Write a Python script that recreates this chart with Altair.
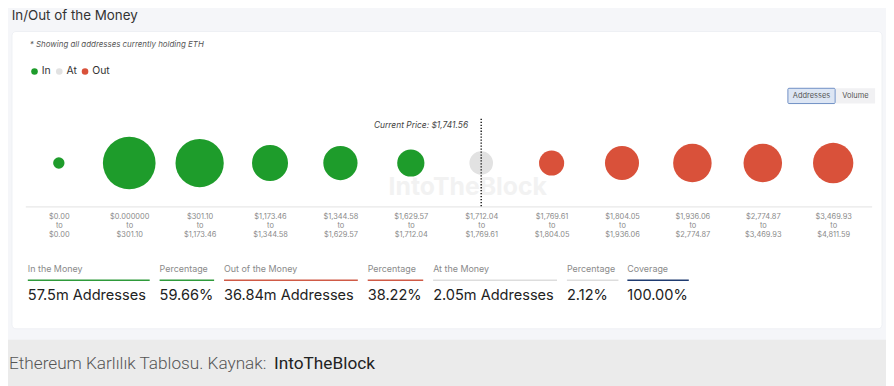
import altair as alt
import pandas as pd

# ---------------- data ----------------
range_low = ["$0.00", "$0.000000", "$301.10", "$1,173.46", "$1,344.58", "$1,629.57",
             "$1,712.04", "$1,769.61", "$1,804.05", "$1,936.06", "$2,774.87", "$3,469.93"]
range_high = ["$0.00", "$301.10", "$1,173.46", "$1,344.58", "$1,629.57", "$1,712.04",
              "$1,769.61", "$1,804.05", "$1,936.06", "$2,774.87", "$3,469.93", "$4,811.59"]
status = ["In", "In", "In", "In", "In", "In", "At", "Out", "Out", "Out", "Out", "Out"]
addresses_m = [0.23, 22.9, 17.6, 7.31, 6.29, 3.16, 2.05, 2.48, 6.19, 8.95, 8.96, 10.26]
current_price = 1741.56

status_domain = ["In", "At", "Out"]
status_colors = ["#1e9c2b", "#e2e2e2", "#d9513a"]

summary_headers = ["In the Money", "Percentage", "Out of the Money", "Percentage",
                   "At the Money", "Percentage", "Coverage"]
summary_values = ["57.5m Addresses", "59.66%", "36.84m Addresses", "38.22%",
                  "2.05m Addresses", "2.12%", "100.00%"]
summary_colors = ["#2e9a3a", "#2e9a3a", "#cf5a46", "#cf5a46", "#dddddd", "#dddddd", "#1f3b70"]

# ---------------- layout (chart pixel coords) ----------------
summary_x0 = [20, 153, 218, 363, 429, 564, 625]
summary_x1 = [143, 208, 353, 419, 554, 616, 687]

labels = [f"{a}|to|{b}" for a, b in zip(range_low, range_high)]
df = pd.DataFrame({"bin": labels, "status": status, "addresses": addresses_m})
at_bin = labels[status.index("At")]

FONT = "Inter"
one = pd.DataFrame({"t": [""]})


def txt(text, x, y, size, color, align="left", style="normal", weight="normal", font=FONT):
    return alt.Chart(pd.DataFrame({"t": [text]})).mark_text(
        align=align, baseline="middle", fontSize=size, color=color,
        fontStyle=style, fontWeight=weight, font=font
    ).encode(x=alt.value(x), y=alt.value(y), text="t:N")


def box(x, x2, y, y2, fill, stroke=None, radius=0):
    kw = dict(fill=fill, cornerRadius=radius)
    if stroke:
        kw.update(stroke=stroke, strokeWidth=1)
    return alt.Chart(one).mark_rect(**kw).encode(
        x=alt.value(x), x2=alt.value(x2), y=alt.value(y), y2=alt.value(y2))


layers = []
# card + bottom band
layers.append(box(4, 882, 22, 322, "#ffffff", stroke="#eef0f4", radius=4))
layers.append(box(-10, 900, 333, 390, "#ebebeb"))
# watermark
layers.append(txt("IntoTheBlock", 384, 179, 25, "#f2f2f2", weight="bold"))
# baseline
layers.append(alt.Chart(one).mark_rule(color="#e2e2e2", strokeWidth=1).encode(
    x=alt.value(18), x2=alt.value(872), y=alt.value(199)))

bubbles = alt.Chart(df).mark_circle(opacity=1, strokeWidth=0).encode(
    x=alt.X("bin:N",
            scale=alt.Scale(type="point", domain=labels, range=[51.3, 832.7], padding=0),
            axis=alt.Axis(title=None, domain=False, ticks=False, grid=False,
                          labelExpr="split(datum.label, '|')", labelFontSize=7.5,
                          labelColor="#8a8a8a", labelFont=FONT, labelLineHeight=9.2,
                          labelPadding=5.5, offset=-179, labelAngle=0, labelOverlap=False,
                          zindex=2)),
    y=alt.value(154.7),
    size=alt.Size("addresses:Q",
                  scale=alt.Scale(type="pow", exponent=2 / 3, domain=[0, max(addresses_m)],
                                  range=[0, 2827]),
                  legend=None),
    color=alt.Color("status:N",
                    scale=alt.Scale(domain=status_domain, range=status_colors),
                    legend=alt.Legend(title=None, orient="none", legendX=21.5, legendY=57,
                                      direction="horizontal", symbolType="circle",
                                      symbolSize=44, symbolStrokeWidth=0, labelFontSize=10.5,
                                      labelFont=FONT, labelColor="#333333", labelOffset=2,
                                      columnPadding=3, padding=0, symbolOpacity=1,
                                      zindex=2)),
)
layers.append(bubbles)

# current price marker
layers.append(alt.Chart(pd.DataFrame({"bin": [at_bin]})).mark_rule(
    color="#222222", strokeWidth=1.5, strokeDash=[1.3, 1.7]).encode(
    x="bin:N", y=alt.value(110), y2=alt.value(199)))
layers.append(txt(f"Current Price: ${current_price:,.2f}", 464.3, 116, 8.5, "#444444",
                  align="right", style="italic"))

# texts
layers.append(txt("In/Out of the Money", 3.7, 6.5, 13.5, "#333333"))
layers.append(txt("* Showing all addresses currently holding ETH", 22, 35.3, 8, "#555555",
                  style="italic"))

# buttons
layers.append(box(787, 834.7, 79.3, 94.7, "#dde6f4", stroke="#6f8fc4", radius=1))
layers.append(box(835.5, 875, 79.3, 94.7, "#f1f1f3"))
layers.append(txt("Addresses", 810.8, 87, 7.5, "#555555", align="center"))
layers.append(txt("Volume", 855.2, 87, 7.5, "#555555", align="center"))

# summary
for h, v, c, x0, x1 in zip(summary_headers, summary_values, summary_colors, summary_x0, summary_x1):
    layers.append(txt(h, x0, 262, 9, "#8a8a8a"))
    layers.append(alt.Chart(one).mark_rule(color=c, strokeWidth=1.6).encode(
        x=alt.value(x0), x2=alt.value(x1), y=alt.value(273)))
    layers.append(txt(v, x0, 288.7, 14.7, "#222222"))

# caption
layers.append(txt("Ethereum Karlılık Tablosu. Kaynak:", 1, 358, 17.35, "#555555",
                  weight=300, font="Roboto"))
layers.append(txt("IntoTheBlock", 268.5, 358, 17.4, "#222222", font="Roboto"))

chart = alt.layer(*layers).properties(
    width=886, height=378, autosize=alt.AutoSizeParams(type="none"), padding=0,
    background="#f5f6f9"
).configure_view(stroke=None)

chart.save("out.html", embed_options={"renderer": "svg", "actions": False})
